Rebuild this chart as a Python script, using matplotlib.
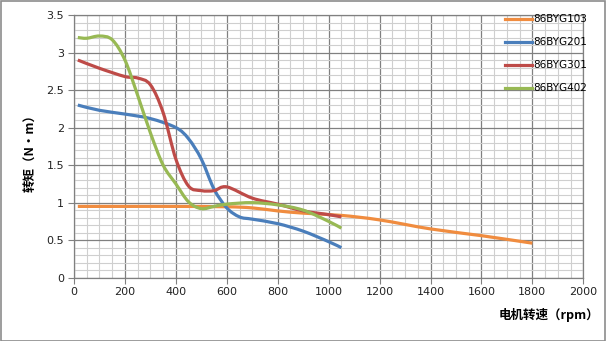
import numpy as np
import matplotlib
matplotlib.use("Agg")
import matplotlib.pyplot as plt
from matplotlib.path import Path
from matplotlib.patches import PathPatch, Rectangle
from matplotlib.lines import Line2D

# torque-speed curves (rpm, N·m)
rpm_103 = [15, 200, 400, 600, 700, 800, 900, 1050, 1200, 1400, 1600, 1800]
torque_103 = [0.95, 0.95, 0.95, 0.945, 0.93, 0.89, 0.86, 0.83, 0.77, 0.65, 0.56, 0.46]

rpm_201 = [15, 100, 200, 300, 400, 450, 500, 550, 600, 650, 700, 800, 900, 1000, 1050]
torque_201 = [2.30, 2.23, 2.18, 2.12, 2.00, 1.85, 1.58, 1.18, 0.93, 0.81, 0.78, 0.72, 0.62, 0.48, 0.40]

rpm_301 = [15, 100, 200, 250, 300, 350, 400, 450, 500, 550, 600, 700, 800, 900, 1000, 1050]
torque_301 = [2.90, 2.79, 2.68, 2.66, 2.57, 2.20, 1.58, 1.22, 1.16, 1.16, 1.21, 1.06, 0.98, 0.89, 0.84, 0.81]

rpm_402 = [15, 50, 100, 150, 200, 250, 300, 350, 400, 450, 500, 550, 600, 700, 800, 900, 1000, 1050]
torque_402 = [3.20, 3.19, 3.22, 3.17, 2.90, 2.43, 1.93, 1.50, 1.25, 1.01, 0.92, 0.95, 0.98, 1.00, 0.97, 0.90, 0.75, 0.66]

names = ["86BYG103", "86BYG201", "86BYG301", "86BYG402"]
colors = ["#F08C3F", "#4A7EBB", "#BE4B48", "#98B954"]
series = [(rpm_103, torque_103), (rpm_201, torque_201),
          (rpm_301, torque_301), (rpm_402, torque_402)]

zh = ["Noto Sans CJK SC", "DejaVu Sans"]


def smooth_path(x, y):
    # cubic bezier through every point (catmull-rom style tangents)
    p = np.column_stack([x, y]).astype(float)
    n = len(p)
    verts = [p[0]]
    codes = [Path.MOVETO]
    for i in range(n - 1):
        p0 = p[i - 1] if i > 0 else p[i]
        p3 = p[i + 2] if i + 2 < n else p[i + 1]
        c1 = p[i] + (p[i + 1] - p0) / 6.0
        c2 = p[i + 1] - (p3 - p[i]) / 6.0
        verts += [c1, c2, p[i + 1]]
        codes += [Path.CURVE4] * 3
    return Path(verts, codes)


fig = plt.figure(figsize=(6.06, 3.41), dpi=100)
ax = fig.add_axes([74 / 606, 1 - 277.7 / 341, (583.3 - 74) / 606, (277.7 - 15) / 341])

ax.set_xlim(0, 2000)
ax.set_ylim(0, 3.5)
ax.set_xticks(np.arange(0, 2001, 200))
ax.set_yticks(np.arange(0, 3.51, 0.5))
ax.set_yticklabels(["0", "0.5", "1", "1.5", "2", "2.5", "3", "3.5"])
ax.set_xticks(np.arange(0, 2001, 50), minor=True)
ax.set_yticks(np.arange(0, 3.51, 0.1), minor=True)
ax.grid(which="minor", color="#cfcfcf", linewidth=0.8)
ax.grid(which="major", color="#808080", linewidth=0.9)
ax.set_axisbelow(True)
ax.tick_params(which="major", length=4, width=0.8, color="#808080",
               labelsize=8, labelcolor="#222222", pad=3)
ax.tick_params(which="minor", length=0)
for s in ax.spines.values():
    s.set_color("#808080")
    s.set_linewidth(0.9)

for (x, y), c in zip(series, colors):
    ax.add_patch(PathPatch(smooth_path(x, y), facecolor="none", edgecolor=c,
                           linewidth=2.3, capstyle="butt", zorder=3))

handles = [Line2D([], [], color=c, linewidth=2.3) for c in colors]
leg = fig.legend(handles, names, loc="upper left", bbox_to_anchor=(500 / 606, 1 - 9 / 341),
                 frameon=False, fontsize=7.5, handlelength=2.6, handletextpad=0.1,
                 labelspacing=1.25, borderpad=0)

fig.text(599 / 606, 1 - 315 / 341, "电机转速（rpm）", ha="right", va="center",
         fontsize=9, fontweight="bold", family=zh)
fig.text(31 / 606, 1 - 150 / 341, "转矩（N·m）", ha="center", va="center",
         rotation=90, fontsize=9, fontweight="bold", family=zh)

fig.patches.append(Rectangle((0.5 / 606, 0.5 / 341), 1 - 1.5 / 606, 1 - 1.5 / 341,
                             transform=fig.transFigure, fill=False,
                             edgecolor="#8c8c8c", linewidth=1.2))

fig.savefig("out.png", dpi=100)
